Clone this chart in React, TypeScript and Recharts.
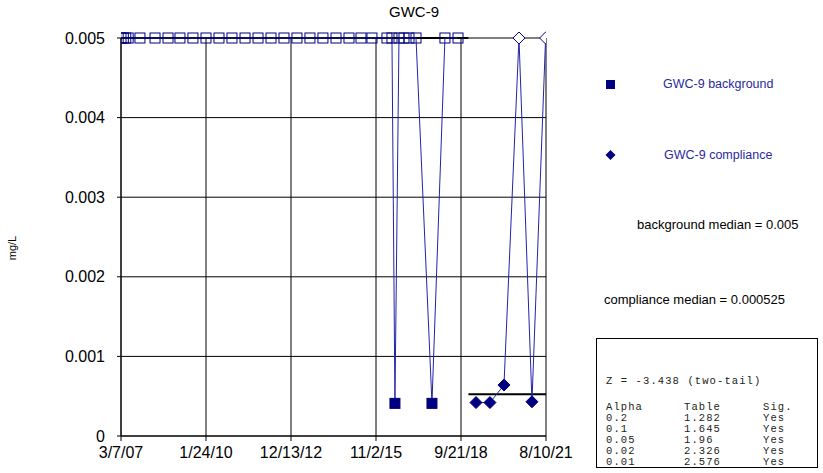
import { CartesianGrid, Line, LineChart, XAxis, YAxis } from "recharts";

const backgroundDates = [
  "2007-03-07", "2007-04-05", "2007-05-05", "2007-06-04", "2007-10-28", "2008-05-02",
  "2008-10-10", "2009-03-07", "2009-08-15", "2010-01-24", "2010-07-04", "2010-12-12",
  "2011-05-23", "2011-10-31", "2012-04-09", "2012-09-17", "2013-02-25", "2013-08-05",
  "2014-01-13", "2014-06-24", "2014-12-02", "2015-04-30", "2015-09-13", "2016-03-17",
  "2016-05-18", "2016-06-24", "2016-08-13", "2016-10-14", "2016-12-15", "2017-03-12",
  "2017-09-26", "2018-03-06", "2018-08-15",
];
const backgroundValues = [
  0.005, 0.005, 0.005, 0.005, 0.005, 0.005, 0.005, 0.005, 0.005, 0.005, 0.005, 0.005,
  0.005, 0.005, 0.005, 0.005, 0.005, 0.005, 0.005, 0.005, 0.005, 0.005, 0.005, 0.005,
  0.005, 0.00041, 0.005, 0.005, 0.005, 0.005, 0.00041, 0.005, 0.005,
];
// non-detects are drawn hollow
const backgroundNonDetect = backgroundValues.map((v) => v >= 0.005);

const complianceDates = ["2019-03-26", "2019-09-15", "2020-03-07", "2020-09-09", "2021-02-17", "2021-08-05"];
const complianceValues = [0.00042, 0.00042, 0.00064, 0.005, 0.00043, 0.005];
const complianceNonDetect = [false, false, false, true, false, true];

const xTickDates = ["2007-03-07", "2010-01-24", "2012-12-13", "2015-11-02", "2018-09-21", "2021-08-10"];
const yTicks = [0, 0.001, 0.002, 0.003, 0.004, 0.005];

const backgroundMedian = 0.005;
const complianceMedian = 0.000525;
const splitDate = "2018-12-22";

const zLine = "Z = -3.438 (two-tail)";
const statHeader = ["Alpha", "Table", "Sig."];
const statAlpha = ["0.2", "0.1", "0.05", "0.02", "0.01"];
const statTable = ["1.282", "1.645", "1.96", "2.326", "2.576"];
const statSig = ["Yes", "Yes", "Yes", "Yes", "Yes"];

const ts = (s: string) => Date.parse(s + "T00:00:00Z");

const bgData = backgroundDates.map((d, i) => ({ t: ts(d), v: backgroundValues[i], nd: backgroundNonDetect[i] }));
const compData = complianceDates.map((d, i) => ({ t: ts(d), v: complianceValues[i], nd: complianceNonDetect[i] }));
const xTicks = xTickDates.map(ts);
const bgMedianData = [
  { t: ts(backgroundDates[0]), v: backgroundMedian },
  { t: ts(splitDate), v: backgroundMedian },
];
const compMedianData = [
  { t: ts(splitDate), v: complianceMedian },
  { t: xTicks[xTicks.length - 1], v: complianceMedian },
];

const NAVY = "#000080";
const LINE = "#2323a8";
const FONT = "'Liberation Sans', Arial, sans-serif";

function fmtDate(t: number) {
  const d = new Date(t);
  return `${d.getUTCMonth() + 1}/${d.getUTCDate()}/${String(d.getUTCFullYear()).slice(2)}`;
}

function SquareDot(props: any) {
  const { cx, cy, payload, index } = props;
  if (cx == null || cy == null) return <g key={index} />;
  return (
    <rect
      key={index}
      x={cx - 5}
      y={cy - 5}
      width={10}
      height={10}
      fill={payload.nd ? "none" : NAVY}
      stroke={NAVY}
      strokeWidth={1}
    />
  );
}

function DiamondDot(props: any) {
  const { cx, cy, payload, index } = props;
  if (cx == null || cy == null) return <g key={index} />;
  return (
    <path
      key={index}
      d={`M${cx},${cy - 6} L${cx + 6},${cy} L${cx},${cy + 6} L${cx - 6},${cy} Z`}
      fill={payload.nd ? "#fff" : NAVY}
      stroke={NAVY}
      strokeWidth={1}
    />
  );
}

export default function App() {
  return (
    <div style={{ position: "absolute", left: 0, top: 0, width: 823, height: 473, background: "#fff", fontFamily: FONT }}>
      <LineChart width={823} height={473} margin={{ top: 38, right: 277, left: 61, bottom: 7 }}>
        <CartesianGrid stroke="#000" strokeWidth={1} horizontalValues={yTicks} verticalValues={xTicks} />
        <XAxis
          type="number"
          dataKey="t"
          domain={[xTicks[0], xTicks[xTicks.length - 1]]}
          ticks={xTicks}
          tickFormatter={fmtDate}
          height={30}
          tickSize={5}
          tickMargin={6}
          stroke="#000"
          tick={{ fill: "#000", fontSize: 16, fontFamily: FONT }}
          allowDataOverflow
        />
        <YAxis
          type="number"
          domain={[0, 0.005]}
          ticks={yTicks}
          tickFormatter={(v: number) => (v === 0 ? "0" : v.toFixed(3))}
          width={60}
          tickSize={4}
          tickMargin={12}
          stroke="#000"
          tick={{ fill: "#000", fontSize: 16, fontFamily: FONT }}
        />
        <Line data={bgMedianData} dataKey="v" stroke="#000" strokeWidth={2} dot={false} isAnimationActive={false} />
        <Line data={compMedianData} dataKey="v" stroke="#000" strokeWidth={2} dot={false} isAnimationActive={false} />
        <Line data={bgData} dataKey="v" stroke={LINE} strokeWidth={1} dot={SquareDot} activeDot={false} isAnimationActive={false} />
        <Line data={compData} dataKey="v" stroke={LINE} strokeWidth={1} dot={DiamondDot} activeDot={false} isAnimationActive={false} />
      </LineChart>

      <div style={{ position: "absolute", left: 334, width: 160, top: 3, textAlign: "center", fontSize: 15 }}>GWC-9</div>
      <div
        style={{
          position: "absolute",
          left: -8,
          top: 242,
          width: 40,
          textAlign: "center",
          fontSize: 11,
          transform: "rotate(-90deg)",
        }}
      >
        mg/L
      </div>

      <svg style={{ position: "absolute", left: 600, top: 74 }} width={24} height={100}>
        <rect x={6} y={6} width={9} height={9} fill={NAVY} />
        <path d="M10.5,76 L15.5,81 L10.5,86 L5.5,81 Z" fill={NAVY} />
      </svg>
      <div style={{ position: "absolute", left: 663, top: 77, fontSize: 12.5, color: "#2a2a9c" }}>GWC-9 background</div>
      <div style={{ position: "absolute", left: 664, top: 148, fontSize: 12.5, color: "#2a2a9c" }}>GWC-9 compliance</div>
      <div style={{ position: "absolute", left: 637, top: 217, fontSize: 13 }}>background median = 0.005</div>
      <div style={{ position: "absolute", left: 604, top: 292, fontSize: 13 }}>compliance median = 0.000525</div>

      <div
        style={{
          position: "absolute",
          left: 596,
          top: 338,
          width: 220,
          height: 128,
          border: "1px solid #000",
          fontFamily: "'Liberation Mono', 'Courier New', monospace",
          fontSize: 10.5,
          letterSpacing: 1.1,
          lineHeight: "11px",
          color: "#222",
        }}
      >
        <div style={{ position: "absolute", left: 9, top: 37 }}>{zLine}</div>
        {[statHeader, ...statAlpha.map((a, i) => [a, statTable[i], statSig[i]])].map((row, i) => (
          <div key={i} style={{ position: "absolute", top: 63 + i * 11, left: 0, width: 220, height: 11 }}>
            <span style={{ position: "absolute", left: 9 }}>{row[0]}</span>
            <span style={{ position: "absolute", left: 87 }}>{row[1]}</span>
            <span style={{ position: "absolute", left: 166 }}>{row[2]}</span>
          </div>
        ))}
      </div>
    </div>
  );
}
